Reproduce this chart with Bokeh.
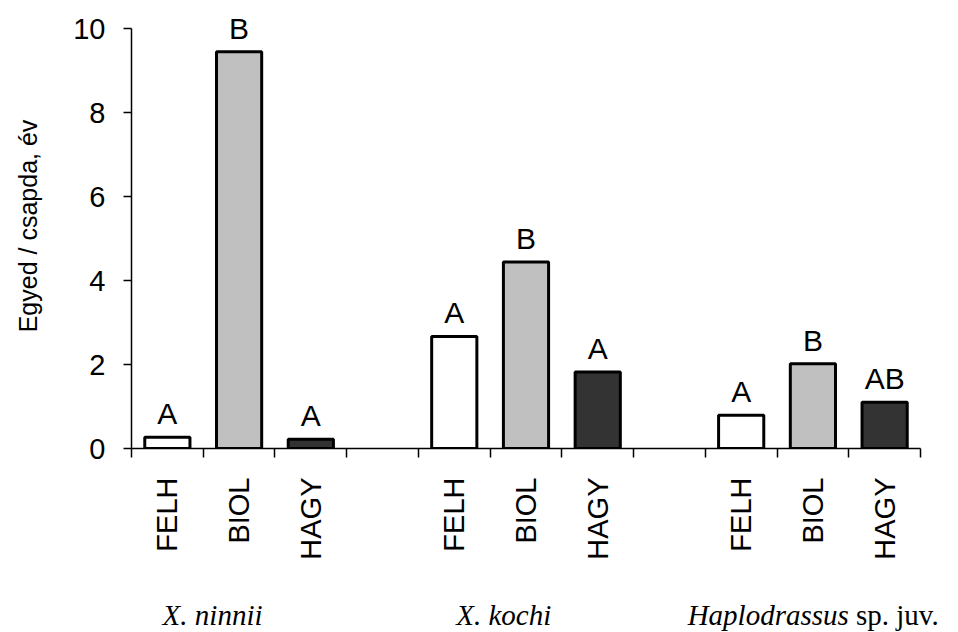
import math
from bokeh.plotting import figure
from bokeh.layouts import column
from bokeh.models import ColumnDataSource, FixedTicker, Range1d
from bokeh.core.properties import value
from bokeh.embed import file_html
from bokeh.resources import INLINE

# ---- data ----
groups = ["X. ninnii", "X. kochi", "Haplodrassus"]
group_suffix = ["", "", "\u00a0sp. juv."]
treatments = ["FELH", "BIOL", "HAGY"]
ninnii = [0.27, 9.45, 0.22]
kochi = [2.67, 4.44, 1.82]
haplo = [0.79, 2.02, 1.10]
letters_ninnii = ["A", "B", "A"]
letters_kochi = ["A", "B", "A"]
letters_haplo = ["A", "B", "AB"]
y_ticks = [0, 2, 4, 6, 8, 10]
fills = ["#ffffff", "#c0c0c0", "#333333"]

series = [ninnii, kochi, haplo]
letters = [letters_ninnii, letters_kochi, letters_haplo]

# slots: 3 bars per group, one empty slot between groups
slots_per_group = len(treatments) + 1
n_slots = len(groups) * slots_per_group - 1

xs, tops, cols, labs, names = [], [], [], [], []
for gi, vals in enumerate(series):
    for ti, v in enumerate(vals):
        xs.append(gi * slots_per_group + ti + 0.5)
        tops.append(v)
        cols.append(fills[ti])
        labs.append(letters[gi][ti])
        names.append(treatments[ti])

src = ColumnDataSource(dict(x=xs, top=tops, color=cols, lab=labs))

W, LEFT, AXIS_RIGHT = 958, 131, 920
# frame runs to the right edge; the x axis itself stops at the last slot
xr = Range1d(0, n_slots * (W - LEFT) / (AXIS_RIGHT - LEFT))
p = figure(width=W, height=580, output_backend="svg", toolbar_location=None,
           x_range=xr, y_range=Range1d(0, 10.6),
           min_border_left=LEFT, min_border_right=0, min_border_top=3,
           min_border_bottom=132)
p.outline_line_color = None
p.grid.visible = False
p.background_fill_color = "white"
p.border_fill_color = "white"

p.vbar(x="x", top="top", width=0.63, bottom=0, source=src,
       fill_color="color", line_color="black", line_width=3)

p.text(x="x", y="top", text="lab", source=src, text_align="center",
       text_baseline="bottom", y_offset=-7,
       text_font=value("Liberation Sans"), text_font_size="30px",
       text_color="black")

# y axis
p.yaxis.ticker = FixedTicker(ticks=y_ticks)
p.yaxis.bounds = (0, 10)
p.yaxis.minor_tick_line_color = None
p.yaxis.major_tick_out = 8
p.yaxis.major_tick_in = 0
p.yaxis.major_tick_line_width = 1.5
p.yaxis.axis_line_width = 1.5
p.yaxis.major_label_text_font = "Liberation Sans"
p.yaxis.major_label_text_font_size = "29px"
p.yaxis.major_label_text_color = "black"
p.yaxis.major_label_standoff = 18
p.yaxis.axis_label = "Egyed / csapda, év"
p.yaxis.axis_label_text_font = "Liberation Sans"
p.yaxis.axis_label_text_font_size = "25px"
p.yaxis.axis_label_text_font_style = "normal"
p.yaxis.axis_label_text_color = "black"
p.yaxis.axis_label_standoff = 28

# x axis: labels at slot centres, tick marks at slot boundaries
p.xaxis.bounds = (0, n_slots)
p.xaxis.ticker = FixedTicker(ticks=xs, minor_ticks=list(range(n_slots + 1)))
p.xaxis.major_label_overrides = {x: n for x, n in zip(xs, names)}
p.xaxis.major_tick_line_color = None
p.xaxis.major_tick_out = 0
p.xaxis.major_tick_in = 0
p.xaxis.minor_tick_out = 9
p.xaxis.minor_tick_in = 0
p.xaxis.minor_tick_line_color = "black"
p.xaxis.minor_tick_line_width = 1.5
p.xaxis.axis_line_width = 1.5
p.xaxis.major_label_orientation = math.pi / 2
p.xaxis.major_label_text_font = "Liberation Sans"
p.xaxis.major_label_text_font_size = "29px"
p.xaxis.major_label_text_color = "black"
p.xaxis.major_label_standoff = 20

# group-label strip below the chart (same x scale)
g = figure(width=W, height=52, output_backend="svg", toolbar_location=None,
           x_range=xr, y_range=Range1d(0, 52),
           min_border_left=LEFT, min_border_right=0, min_border_top=0,
           min_border_bottom=0)
g.axis.visible = False
g.grid.visible = False
g.outline_line_color = None

gy = 2
gsrc = ColumnDataSource(dict(x=[1.13, 5.19], y=[gy, gy], t=groups[:2]))
g.text(x="x", y="y", text="t", source=gsrc, text_align="center",
       text_baseline="bottom", text_font=value("Liberation Serif"),
       text_font_style="italic", text_font_size="29px", text_color="black")
jx = 10.0
g.text(x=[jx], y=[gy], text=[groups[2]], text_align="right",
       text_baseline="bottom", text_font=value("Liberation Serif"),
       text_font_style="italic", text_font_size="29px", text_color="black")
g.text(x=[jx], y=[gy], text=[group_suffix[2]], text_align="left",
       text_baseline="bottom", text_font=value("Liberation Serif"),
       text_font_style="normal", text_font_size="29px", text_color="black")

layout = column(p, g, spacing=0)
open("out.html", "w").write(file_html(layout, INLINE))
